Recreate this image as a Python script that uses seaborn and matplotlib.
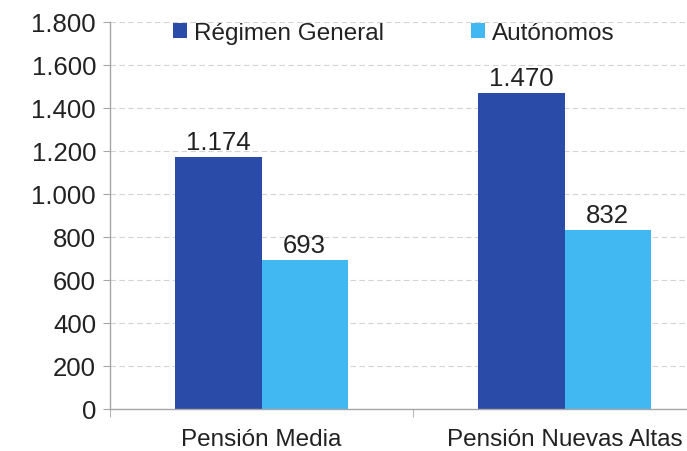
import pandas as pd
import matplotlib
matplotlib.use("Agg")
import matplotlib.pyplot as plt
import seaborn as sns
from matplotlib.ticker import FuncFormatter, FixedLocator

# Data
categories = ["Pensión Media", "Pensión Nuevas Altas"]
series_names = ["Régimen General", "Autónomos"]
regimen_general = [1174, 1470]
autonomos = [693, 832]
colors = ["#2B4BA8", "#41B8F2"]

df = pd.DataFrame({
    "categoria": categories * 2,
    "serie": [series_names[0]] * 2 + [series_names[1]] * 2,
    "valor": regimen_general + autonomos,
})

sns.set_style("white")
plt.rcParams["font.family"] = ["Liberation Sans", "DejaVu Sans"]

fig = plt.figure(figsize=(6.87, 4.52), dpi=100)
ax = fig.add_axes([110 / 687, 42 / 452, 606 / 687, 387 / 452])

sns.barplot(data=df, x="categoria", y="valor", hue="serie", palette=colors,
            width=0.57, ax=ax, linewidth=0, saturation=1)

ax.set_xlim(-0.5, 1.5)
ax.set_ylim(0, 1800)
ax.set_yticks(range(0, 1801, 200))
ax.yaxis.set_major_formatter(FuncFormatter(lambda v, p: f"{int(v):,}".replace(",", ".")))
ax.set_xlabel("")
ax.set_ylabel("")

# grid
ax.yaxis.grid(True, linestyle=(0, (5, 3)), color="#d4d4d4", linewidth=0.8)
ax.set_axisbelow(True)

for side in ["top", "right"]:
    ax.spines[side].set_visible(False)
for side in ["left", "bottom"]:
    ax.spines[side].set_color("#a6a6a6")
    ax.spines[side].set_linewidth(1.0)

ax.tick_params(axis="y", direction="out", length=5, color="#a6a6a6", labelsize=18.5,
               pad=5, left=True, labelcolor="#222222")
ax.tick_params(axis="x", which="major", length=0, labelsize=17.5, pad=14, labelcolor="#222222")
ax.xaxis.set_minor_locator(FixedLocator([-0.5, 0.5, 1.5]))
ax.tick_params(axis="x", which="minor", direction="out", length=6, color="#a6a6a6", bottom=True)

# value labels
for cont in ax.containers:
    labels = [f"{int(b.get_height()):,}".replace(",", ".") for b in cont]
    ax.bar_label(cont, labels=labels, fontsize=18.5, padding=2, color="#222222")

handles, labs = ax.get_legend_handles_labels()
ax.legend(handles, labs, loc="upper center", bbox_to_anchor=(394 / 687, 0.997),
          bbox_transform=fig.transFigure, ncol=2, frameon=False, fontsize=17.5,
          handlelength=0.55, handleheight=0.55, handletextpad=0.3, columnspacing=3.6,
          labelcolor="#222222")

fig.savefig("out.png", dpi=100)
